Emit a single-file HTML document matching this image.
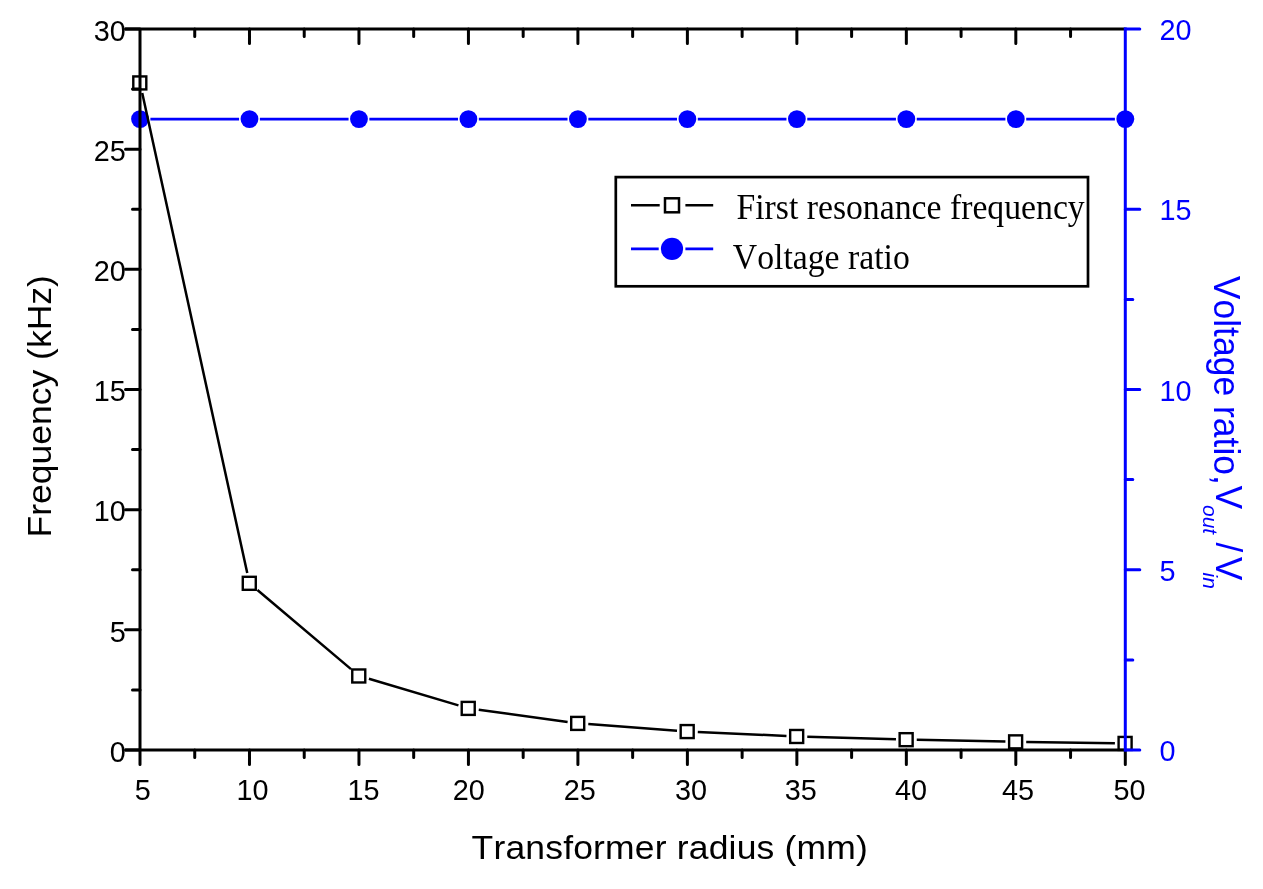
<!DOCTYPE html>
<html lang="en"><head><meta charset="utf-8"><title>Transformer radius chart</title>
<style>html,body{margin:0;padding:0;background:#fff}body{width:1263px;height:889px;overflow:hidden}svg{display:block}</style>
</head><body>
<svg width="1263" height="889" viewBox="0 0 1263 889">
<rect width="1263" height="889" fill="#fff"/>
<g id="blue-data">
<path d="M150.40 119.12L239.08 119.12M259.88 119.12L348.56 119.12M369.36 119.12L458.03 119.12M478.83 119.12L567.51 119.12M588.31 119.12L676.99 119.12M697.79 119.12L786.47 119.12M807.27 119.12L895.94 119.12M916.74 119.12L1005.42 119.12M1026.22 119.12L1114.90 119.12" stroke="#0000ff" stroke-width="2.6" fill="none"/>
<circle cx="140.00" cy="119.12" r="8.9" fill="#0000ff"/>
<circle cx="249.48" cy="119.12" r="8.9" fill="#0000ff"/>
<circle cx="358.96" cy="119.12" r="8.9" fill="#0000ff"/>
<circle cx="468.43" cy="119.12" r="8.9" fill="#0000ff"/>
<circle cx="577.91" cy="119.12" r="8.9" fill="#0000ff"/>
<circle cx="687.39" cy="119.12" r="8.9" fill="#0000ff"/>
<circle cx="796.87" cy="119.12" r="8.9" fill="#0000ff"/>
<circle cx="906.34" cy="119.12" r="8.9" fill="#0000ff"/>
<circle cx="1015.82" cy="119.12" r="8.9" fill="#0000ff"/>
<circle cx="1125.30" cy="119.12" r="8.9" fill="#0000ff"/>
</g>
<g id="black-data">
<path d="M142.22 92.99L247.25 573.05M257.42 589.93L351.02 669.15M368.93 678.82L458.46 705.35M478.74 709.71L567.61 721.90M588.28 724.09L677.02 730.70M697.78 731.93L786.48 735.92M807.26 736.69L895.95 739.27M916.74 739.78L1005.42 741.56M1026.22 741.91L1114.90 743.18" stroke="#000" stroke-width="2.5" fill="none"/>
<rect x="133.30" y="76.43" width="13" height="13" fill="none" stroke="#000" stroke-width="2.4"/>
<rect x="242.78" y="576.81" width="13" height="13" fill="none" stroke="#000" stroke-width="2.4"/>
<rect x="352.26" y="669.47" width="13" height="13" fill="none" stroke="#000" stroke-width="2.4"/>
<rect x="461.73" y="701.90" width="13" height="13" fill="none" stroke="#000" stroke-width="2.4"/>
<rect x="571.21" y="716.91" width="13" height="13" fill="none" stroke="#000" stroke-width="2.4"/>
<rect x="680.69" y="725.07" width="13" height="13" fill="none" stroke="#000" stroke-width="2.4"/>
<rect x="790.17" y="729.98" width="13" height="13" fill="none" stroke="#000" stroke-width="2.4"/>
<rect x="899.64" y="733.18" width="13" height="13" fill="none" stroke="#000" stroke-width="2.4"/>
<rect x="1009.12" y="735.36" width="13" height="13" fill="none" stroke="#000" stroke-width="2.4"/>
<rect x="1118.60" y="736.93" width="13" height="13" fill="none" stroke="#000" stroke-width="2.4"/>
</g>
<g id="black-axes" stroke="#000" fill="none" stroke-linecap="round">
<path d="M140.0 29.0V750.0" stroke-width="3.0" stroke-linecap="butt"/>
<path d="M125.0 29.0H1125.3" stroke-width="3.0" stroke-linecap="butt"/>
<path d="M125.0 750.0H1125.3" stroke-width="3.0" stroke-linecap="butt"/>
<path d="M140.00 750.0v14.5M194.74 750.0v7.5M194.74 29.0v7.5M249.48 750.0v14.5M249.48 29.0v14.5M304.22 750.0v7.5M304.22 29.0v7.5M358.96 750.0v14.5M358.96 29.0v14.5M413.69 750.0v7.5M413.69 29.0v7.5M468.43 750.0v14.5M468.43 29.0v14.5M523.17 750.0v7.5M523.17 29.0v7.5M577.91 750.0v14.5M577.91 29.0v14.5M632.65 750.0v7.5M632.65 29.0v7.5M687.39 750.0v14.5M687.39 29.0v14.5M742.13 750.0v7.5M742.13 29.0v7.5M796.87 750.0v14.5M796.87 29.0v14.5M851.61 750.0v7.5M851.61 29.0v7.5M906.34 750.0v14.5M906.34 29.0v14.5M961.08 750.0v7.5M961.08 29.0v7.5M1015.82 750.0v14.5M1015.82 29.0v14.5M1070.56 750.0v7.5M1070.56 29.0v7.5M1125.30 750.0v14.5M140.0 750.00h-14.5M140.0 689.92h-7.5M140.0 629.83h-14.5M140.0 569.75h-7.5M140.0 509.67h-14.5M140.0 449.58h-7.5M140.0 389.50h-14.5M140.0 329.42h-7.5M140.0 269.33h-14.5M140.0 209.25h-7.5M140.0 149.17h-14.5M140.0 89.08h-7.5M140.0 29.00h-14.5" stroke-width="3.0"/>
</g>
<g id="blue-axis" stroke="#0000ff" fill="none" stroke-linecap="round">
<path d="M1125.3 27.5V751.5" stroke-width="3.0" stroke-linecap="butt"/>
<path d="M1125.3 750.00h14.5M1125.3 659.88h7.5M1125.3 569.75h14.5M1125.3 479.62h7.5M1125.3 389.50h14.5M1125.3 299.38h7.5M1125.3 209.25h14.5M1125.3 119.12h7.5M1125.3 29.00h14.5" stroke-width="3.0"/>
</g>
<g font-family="Liberation Sans, Arial, sans-serif" font-size="28.8" fill="#000">
<text x="142.70" y="800.2" text-anchor="middle">5</text>
<text x="252.58" y="800.2" text-anchor="middle">10</text>
<text x="363.46" y="800.2" text-anchor="middle">15</text>
<text x="468.73" y="800.2" text-anchor="middle">20</text>
<text x="579.71" y="800.2" text-anchor="middle">25</text>
<text x="690.99" y="800.2" text-anchor="middle">30</text>
<text x="800.77" y="800.2" text-anchor="middle">35</text>
<text x="911.04" y="800.2" text-anchor="middle">40</text>
<text x="1018.12" y="800.2" text-anchor="middle">45</text>
<text x="1129.60" y="800.2" text-anchor="middle">50</text>
<text x="125.8" y="761.70" text-anchor="end">0</text>
<text x="125.8" y="641.53" text-anchor="end">5</text>
<text x="125.8" y="521.37" text-anchor="end">10</text>
<text x="125.8" y="401.20" text-anchor="end">15</text>
<text x="125.8" y="281.03" text-anchor="end">20</text>
<text x="125.8" y="160.87" text-anchor="end">25</text>
<text x="125.8" y="40.70" text-anchor="end">30</text>
</g>
<g font-family="Liberation Sans, Arial, sans-serif" font-size="28.8" fill="#0000ff">
<text x="1159.6" y="761.20" text-anchor="start">0</text>
<text x="1159.6" y="580.95" text-anchor="start">5</text>
<text x="1159.6" y="400.70" text-anchor="start">10</text>
<text x="1159.6" y="220.45" text-anchor="start">15</text>
<text x="1159.6" y="40.20" text-anchor="start">20</text>
</g>
<g font-family="Liberation Sans, Arial, sans-serif" font-size="35.5" fill="#000" style="font-kerning:none">
<text id="xt" transform="translate(471.6,858.7) scale(1,0.935)" letter-spacing="0.17">Transformer radius (mm)</text>
<g transform="rotate(-90)"><text id="yt" transform="translate(-537.4,50.9) scale(1,0.945)">Frequency (kHz)</text></g>
</g>
<g transform="rotate(90)" font-family="Liberation Sans, Arial, sans-serif" font-size="35.5" fill="#0000ff" style="font-kerning:none">
<text id="rt" transform="translate(275.8,-1214) scale(1,1.04)">Voltage ratio,</text>
<text id="rv1" transform="translate(485.5,-1216.2) scale(1,1.04)">V</text>
<text id="ro" x="505" y="-1203.2" font-size="21" font-style="italic">out</text>
<text id="rs" transform="translate(542.6,-1216.2) scale(1,1.04)">/</text>
<text id="rv2" transform="translate(556.7,-1216.2) scale(1,1.04)">V</text>
<text id="ri" x="572.6" y="-1203.2" font-size="21" font-style="italic">in</text>
</g>
<g id="legend">
<rect x="615.8" y="177.1" width="472.2" height="109.2" fill="#fff" stroke="#000" stroke-width="2.7"/>
<path d="M631 205.3H659.7M685.4 205.3H713.2" stroke="#000" stroke-width="2.5"/>
<rect x="665" y="198.3" width="14" height="14" fill="none" stroke="#000" stroke-width="2.5"/>
<path d="M631 248.9H658.7M685.4 248.9H713.2" stroke="#0000ff" stroke-width="2.6"/>
<circle cx="672" cy="248.9" r="11.1" fill="#0000ff"/>
<g font-family="Liberation Serif, Times New Roman, serif" font-size="36" fill="#000" style="font-kerning:none">
<text id="l1" transform="translate(736.4,218.7) scale(0.937,1)">First resonance frequency</text>
<text id="l2" transform="translate(732.8,269.1) scale(0.937,1)">Voltage ratio</text>
</g></g>
</svg>
</body></html>
